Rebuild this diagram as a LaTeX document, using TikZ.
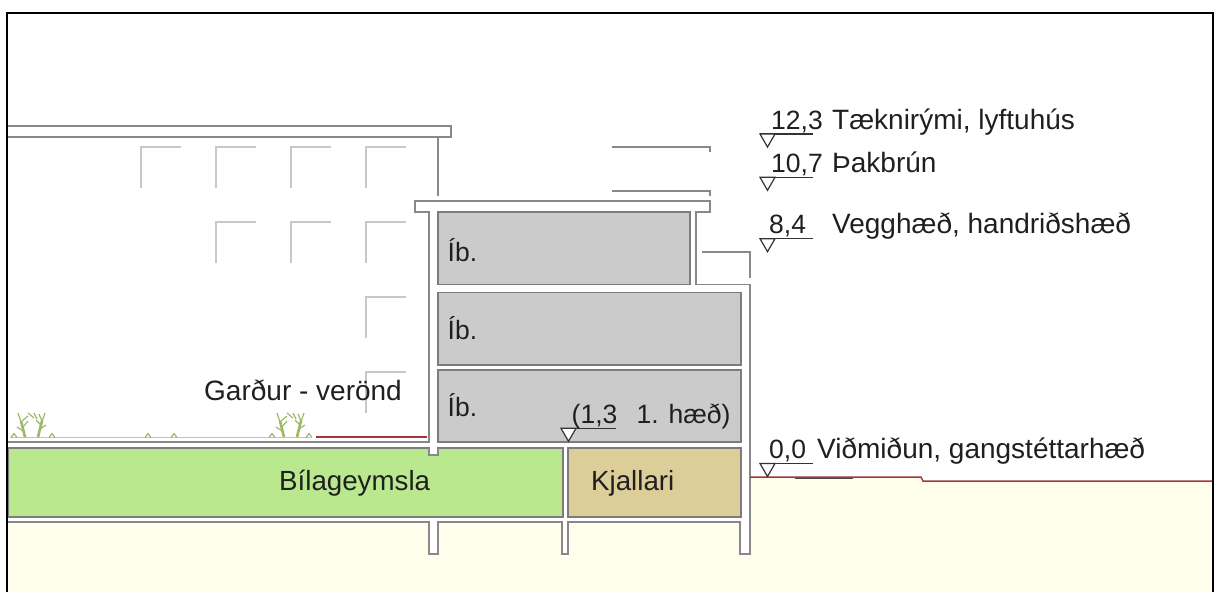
\documentclass[tikz,border=0pt]{standalone}
\usepackage{xcolor}
\usepackage{fontspec}
\setmainfont{Liberation Sans}
\usetikzlibrary{positioning}
\definecolor{wallgrey}{HTML}{888888}
\definecolor{roomline}{HTML}{7C7C7C}
\definecolor{farline}{HTML}{C8C8C8}
\definecolor{roomgrey}{HTML}{CBCBCB}
\definecolor{garage}{HTML}{B9E88F}
\definecolor{basement}{HTML}{DDCD98}
\definecolor{soil}{HTML}{FFFDEC}
\definecolor{groundred}{HTML}{A5333D}
\definecolor{plantgreen}{HTML}{9DB866}

\begin{document}
\begin{tikzpicture}[x=1pt, y=-1pt,
    room/.style={rectangle, draw=roomline, line width=1.2pt, anchor=north west, inner sep=0pt, outer sep=0pt},
    wall/.style={draw=wallgrey, line width=1.1pt, fill=white},
    wallline/.style={draw=wallgrey, line width=1.1pt},
    farwin/.style={draw=farline, line width=1.2pt},
    ground/.style={draw=groundred, line width=1.5pt},
    leaf/.style={draw=plantgreen, line width=1.2pt},
    txt/.style={anchor=base west, inner sep=0pt, text=black!88, font=\fontsize{28}{28}\selectfont},
    roomtxt/.style={txt, font=\fontsize{27.7}{28}\selectfont},
    numtxt/.style={txt, font=\fontsize{26.5}{27}\selectfont},
    elevmark/.pic={
        \draw[black!80, line width=1.2pt] (0,0) -- (#1,0);
        \draw[black!80, line width=1.2pt, fill=white] (0,0) -- (15,0) -- (7.5,13) -- cycle;
    },
    bush/.pic={
        % two stems with short blades
        \draw[leaf, line width=2.6pt] (-7,0) -- (-11,-16);
        \draw[leaf, line width=2.6pt] (6,0) -- (10,-16);
        \foreach \a/\b/\c/\d in {-9/-6/-15/-10,-9/-10/-4/-16,-11/-15/-14/-24,-10/-16/-4/-21,-4/-24/2/-19,2/-24/5/-18,8/-8/14/-12,9/-12/4/-17,10/-15/13/-24,10/-16/7/-23}{
            \draw[leaf] (\a,\b) -- (\c,\d);
        }
    },
    tuft/.pic={
        \draw[leaf] (-3,0) -- (0,-4) -- (3,0);
    }]
    \useasboundingbox (0,0) rectangle (1218,592);

    % Soil
    \fill[soil] (8,522) -- (750,522) -- (750,477) -- (921,477) -- (923,481) -- (1212,481) -- (1212,592) -- (8,592) -- cycle;

    % Far building
    \draw[wall] (8,126) -- (451,126) -- (451,137) -- (8,137);
    \draw[wallline] (438,137) -- (438,196);
    \foreach \x/\y in {141/147,216/147,291/147,366/147,216/222,291/222,366/222,366/297,366/372}{
        \draw[farwin] (\x,\y+41) -- (\x,\y) -- (\x+40,\y);
    }
    \foreach \y in {147,191}{
        \draw[wallline] (612,\y) -- (710,\y) -- (710,\y+5);
    }
    \draw[wallline] (702,252) -- (750,252) -- (750,278);

    % Walls and slabs
    \draw[wall] (8,442) -- (429,442) -- (429,212) -- (415,212) -- (415,201) -- (710,201) -- (710,212) -- (696,212) -- (696,284.5) -- (750,284.5) -- (750,554) -- (740,554) -- (740,522) -- (568,522) -- (568,554) -- (562,554) -- (562,522) -- (438,522) -- (438,554) -- (429,554) -- (429,522) -- (8,522);

    % Rooms
    \node[room, fill=roomgrey, minimum width=252pt, minimum height=72.5pt] (ib3) at (438,212) {};
    \node[room, fill=roomgrey, minimum width=303pt, minimum height=72.5pt] (ib2) at (438,292.5) {};
    \node[room, fill=roomgrey, minimum width=303pt, minimum height=72pt] (ib1) at (438,370) {};
    \node[room, fill=garage, minimum width=555pt, minimum height=69pt] (bilar) at (8,448) {};
    \node[room, fill=basement, minimum width=173pt, minimum height=69pt] (kjallari) at (568,448) {};
    \draw[wall] (429,448) -- (429,455) -- (438,455) -- (438,448);
    \fill[white] (429.6,447) rectangle (437.4,454.4);

    % Garden
    \draw[draw=plantgreen!70, line width=1pt] (10,437.5) -- (310,437.5);
    \pic at (32,437) {bush};
    \pic at (291,437) {bush};
    \foreach \x in {14,52,148,174,272,309}{
        \pic at (\x,437.5) {tuft};
    }
    \draw[ground] (316,437) -- (427,437);

    % Ground line
    \draw[ground] (750,477) -- (921,477) -- (923,481) -- (1213,481);
    \draw[black!70, line width=1pt] (795,478) -- (853,478);

    % Elevations
    \pic at (760,134) {elevmark=53};
    \pic at (760,177.3) {elevmark=53};
    \pic at (760,238.7) {elevmark=53};
    \pic at (760,463.5) {elevmark=53};
    \pic at (561,428.3) {elevmark=55};

    % Texts
    \node[numtxt] (t123) at (771,129.3) {12,3};
    \node[txt] (l123) at (832,129.3) {Tæknirými, lyftuhús};
    \node[numtxt] (t107) at (771,172.7) {10,7};
    \node[txt] (l107) at (832,172.7) {Þakbrún};
    \node[numtxt] (t84) at (769,233) {8,4};
    \node[txt] (l84) at (832,233) {Vegghæð, handriðshæð};
    \node[numtxt] (t00) at (769,458) {0,0};
    \node[txt] (l00) at (817,458) {Viðmiðun, gangstéttarhæð};
    \node[numtxt] (t13) at (571.5,423.3) {(1,3};
    \node[numtxt] (l13) at (636.5,423.3) {1. hæð)};
    \node[numtxt] (ibt3) at (447.5,261.7) {Íb.};
    \node[numtxt] (ibt2) at (447.5,339) {Íb.};
    \node[numtxt] (ibt1) at (447.5,416.7) {Íb.};
    \node[roomtxt] (lbilar) at (279,490) {Bílageymsla};
    \node[roomtxt] (lkjall) at (591,490) {Kjallari};
    \node[txt] (lgard) at (204,400.7) {Garður - verönd};

    % Frame
    \draw[black, line width=2.2pt] (7,592) -- (7,13) -- (1213,13) -- (1213,592);
\end{tikzpicture}
\end{document}
